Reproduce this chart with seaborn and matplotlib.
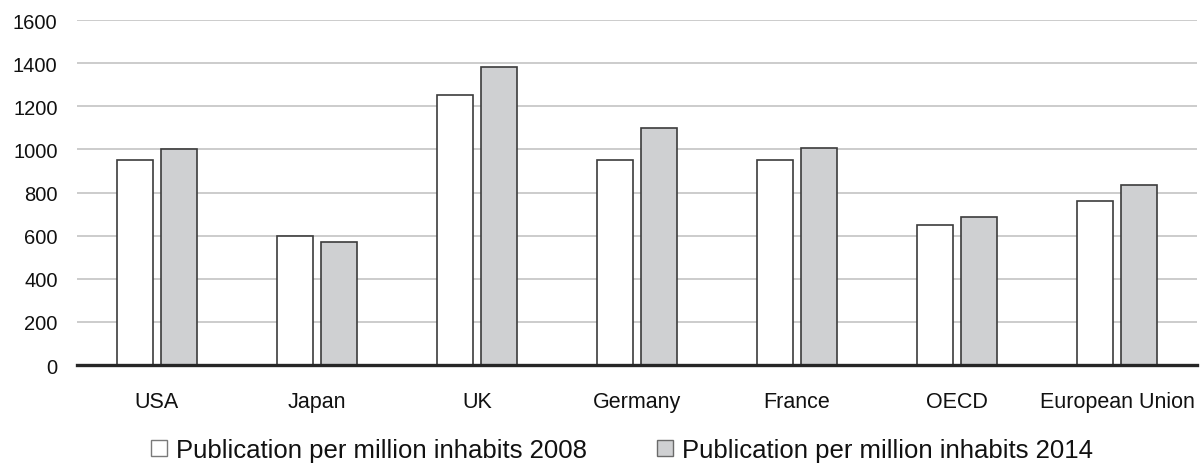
import matplotlib
matplotlib.use("Agg")
import matplotlib.pyplot as plt
from matplotlib.patches import Patch
import pandas as pd
import seaborn as sns

# Publications per million inhabitants, by country/region
regions = ["USA", "Japan", "UK", "Germany", "France", "OECD", "European Union"]
pubs_2008 = [950, 600, 1250, 950, 950, 650, 760]
pubs_2014 = [1000, 570, 1380, 1100, 1005, 688, 835]
series_labels = ["Publication per million inhabits 2008",
                 "Publication per million inhabits 2014"]
y_ticks = [0, 200, 400, 600, 800, 1000, 1200, 1400, 1600]

fill_colors = ["#ffffff", "#cfd0d2"]

df = pd.DataFrame({
    "region": regions * 2,
    "value": pubs_2008 + pubs_2014,
    "series": [series_labels[0]] * len(regions) + [series_labels[1]] * len(regions),
})

sns.set_theme(style="white")
plt.rcParams["font.family"] = ["Liberation Sans", "DejaVu Sans"]

W, H = 1202, 464
fig = plt.figure(figsize=(W / 100, H / 100), dpi=100)
ax = fig.add_axes([77 / W, 1 - 366 / H, (1197 - 77) / W, (366 - 21) / H])

sns.barplot(data=df, x="region", y="value", hue="series", order=regions,
            hue_order=series_labels, palette=fill_colors, width=0.56, gap=0.2,
            edgecolor="#3c3c3c", linewidth=1.2, saturation=1, legend=False,
            errorbar=None, ax=ax, zorder=3)

ax.set_xlim(-0.5, len(regions) - 0.5)
ax.set_ylim(0, 1600)
ax.set_yticks(y_ticks)
ax.set_yticklabels([str(v) for v in y_ticks])
ax.set_xlabel("")
ax.set_ylabel("")

ax.yaxis.grid(True, color="#c8c8c8", linewidth=1.3, zorder=0)
ax.xaxis.grid(False)
ax.set_axisbelow(True)
for side in ["top", "right", "left"]:
    ax.spines[side].set_visible(False)
ax.spines["bottom"].set_color("#262626")
ax.spines["bottom"].set_linewidth(2.4)
ax.spines["bottom"].set_zorder(5)

ax.tick_params(axis="y", length=0, pad=14, labelsize=14.5, colors="#111111")
ax.tick_params(axis="x", length=0, pad=19, labelsize=15.5, colors="#111111")

handles = [Patch(facecolor=fill_colors[0], edgecolor="#7a7a7a", linewidth=1.0),
           Patch(facecolor=fill_colors[1], edgecolor="#6a6a6a", linewidth=1.0)]
fig.legend(handles, series_labels, loc="center", bbox_to_anchor=(622 / W, 0.028),
           ncol=2, frameon=False, fontsize=18.5, handlelength=0.62,
           handleheight=0.62, handletextpad=0.35, columnspacing=2.7,
           borderpad=0, labelcolor="#111111")

fig.savefig("out.png", dpi=100)
